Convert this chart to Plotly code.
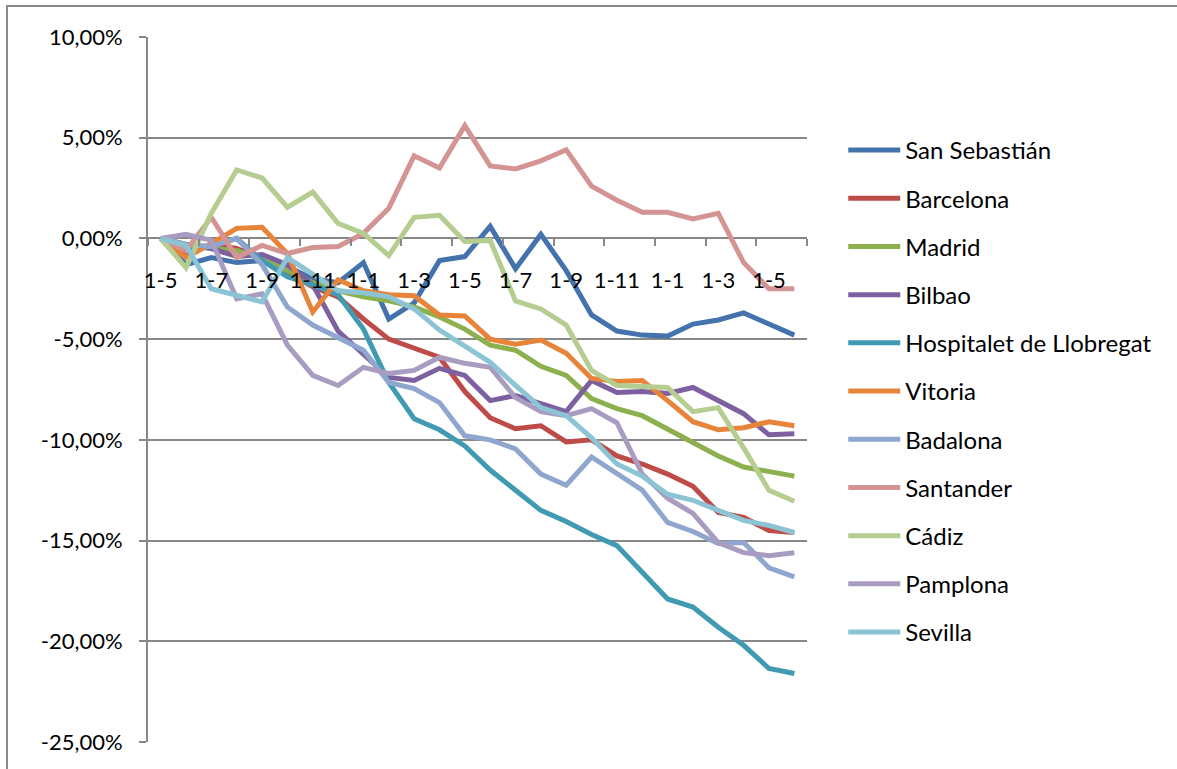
import plotly.graph_objects as go

# Monthly index values (% change since 1-5), one point per month
months = ["1-5", "1-6", "1-7", "1-8", "1-9", "1-10", "1-11", "1-12",
          "1-1", "1-2", "1-3", "1-4", "1-5", "1-6", "1-7", "1-8", "1-9", "1-10", "1-11", "1-12",
          "1-1", "1-2", "1-3", "1-4", "1-5", "1-6"]

san_sebastian = [0, -1.3, -0.95, -1.2, -1.1, -1.4, -2.0, -2.2, -1.2, -4.0, -3.2, -1.1, -0.9,
                 0.6, -1.5, 0.2, -1.6, -3.8, -4.6, -4.8, -4.85, -4.25, -4.05, -3.7, -4.25, -4.8]
barcelona = [0, -0.7, -0.3, -0.5, -1.0, -1.7, -2.4, -2.9, -4.0, -5.0, -5.45, -5.9, -7.6,
             -8.9, -9.45, -9.3, -10.1, -10.0, -10.8, -11.2, -11.7, -12.3, -13.6, -13.85, -14.5, -14.6]
madrid = [0, -0.3, -0.5, -0.6, -1.0, -1.6, -2.2, -2.6, -2.9, -3.1, -3.4, -3.9, -4.5,
          -5.3, -5.55, -6.35, -6.8, -7.95, -8.45, -8.8, -9.45, -10.1, -10.8, -11.35, -11.6, -11.8]
bilbao = [0, -0.3, -0.5, -0.9, -0.8, -1.3, -2.3, -4.6, -5.75, -6.9, -7.05, -6.45, -6.8,
          -8.05, -7.8, -8.2, -8.6, -7.05, -7.65, -7.6, -7.7, -7.4, -8.05, -8.7, -9.75, -9.7]
hospitalet = [0, -0.6, -0.4, 0.0, -1.1, -1.9, -2.3, -2.8, -4.5, -7.15, -8.95, -9.5, -10.3,
              -11.5, -12.5, -13.5, -14.05, -14.7, -15.25, -16.6, -17.9, -18.3, -19.3, -20.2, -21.35, -21.6]
vitoria = [0, -0.95, -0.25, 0.5, 0.55, -0.75, -3.65, -2.05, -2.6, -2.8, -2.85, -3.8, -3.85,
           -5.0, -5.25, -5.05, -5.7, -6.95, -7.1, -7.05, -8.05, -9.1, -9.5, -9.4, -9.1, -9.3]
badalona = [0, -0.3, -0.4, 0.0, -1.3, -3.4, -4.3, -4.95, -5.55, -7.15, -7.45, -8.15, -9.8,
            -10.0, -10.45, -11.7, -12.25, -10.85, -11.65, -12.5, -14.1, -14.55, -15.15, -15.1, -16.35, -16.8]
santander = [0, -0.6, 1.05, -0.95, -0.35, -0.75, -0.45, -0.4, 0.25, 1.5, 4.1, 3.5, 5.6,
             3.6, 3.45, 3.85, 4.4, 2.6, 1.9, 1.3, 1.3, 0.97, 1.25, -1.2, -2.5, -2.5]
cadiz = [0, -1.45, 1.25, 3.4, 3.0, 1.55, 2.3, 0.75, 0.25, -0.85, 1.05, 1.15, -0.15,
         -0.1, -3.1, -3.5, -4.3, -6.55, -7.3, -7.35, -7.4, -8.6, -8.4, -10.4, -12.5, -13.05]
pamplona = [0, 0.2, -0.1, -3.0, -2.75, -5.3, -6.8, -7.3, -6.4, -6.7, -6.55, -5.9, -6.2,
            -6.4, -7.9, -8.6, -8.8, -8.45, -9.15, -11.7, -12.9, -13.65, -15.1, -15.6, -15.75, -15.6]
sevilla = [0, -0.35, -2.5, -2.85, -3.15, -0.95, -1.75, -2.6, -2.7, -2.9, -3.5, -4.55, -5.35,
           -6.15, -7.3, -8.4, -8.8, -9.9, -11.2, -11.8, -12.7, -13.0, -13.5, -14.0, -14.25, -14.6]

series = [
    ("San Sebastián", san_sebastian, "#4372AC"),
    ("Barcelona", barcelona, "#BE4B48"),
    ("Madrid", madrid, "#8DB04E"),
    ("Bilbao", bilbao, "#7D60A0"),
    ("Hospitalet de Llobregat", hospitalet, "#3F9AB2"),
    ("Vitoria", vitoria, "#E8843A"),
    ("Badalona", badalona, "#8FA6CE"),
    ("Santander", santander, "#D49494"),
    ("Cádiz", cadiz, "#B5CD91"),
    ("Pamplona", pamplona, "#A89CC0"),
    ("Sevilla", sevilla, "#8CC4D6"),
]

y_ticks = [10, 5, 0, -5, -10, -15, -20, -25]
y_ticktext = ["10,00%", "5,00%", "0,00%", "-5,00%", "-10,00%", "-15,00%", "-20,00%", "-25,00%"]

FONT = "Lato, 'Open Sans', sans-serif"
GRID = "#878787"

x_idx = list(range(len(months)))

fig = go.Figure()
for name, vals, color in series:
    fig.add_trace(go.Scatter(
        x=x_idx, y=vals, mode="lines", name=name, legendgroup=name,
        line=dict(color=color, width=5),
    ))

fig.update_layout(
    width=1177, height=769, autosize=False,
    margin=dict(l=148, r=370, t=37, b=27),
    paper_bgcolor="white", plot_bgcolor="white",
    font=dict(family=FONT, size=22, color="black"),
    showlegend=True,
    legend=dict(x=1.055, y=0.871, xanchor="left", yanchor="top",
                font=dict(family=FONT, size=24, color="black"),
                tracegroupgap=14, itemwidth=52, bgcolor="rgba(0,0,0,0)"),
    xaxis=dict(
        range=[-0.5, len(months) - 0.5],
        anchor="free", position=25 / 35,
        tickmode="array", tickvals=x_idx[::2], ticktext=months[::2],
        ticks="", showline=False, showgrid=False, zeroline=False,
        ticklabelstandoff=27,
        tickfont=dict(family=FONT, size=22, color="black"),
        minor=dict(tick0=-0.5, dtick=2, ticks="outside", ticklen=7,
                   tickwidth=2, tickcolor=GRID, showgrid=False),
        layer="above traces",
    ),
    yaxis=dict(
        range=[-25, 10], domain=[0, 1],
        tickmode="array", tickvals=y_ticks, ticktext=y_ticktext,
        showgrid=True, gridcolor=GRID, gridwidth=2,
        showline=True, linecolor=GRID, linewidth=2,
        ticks="outside", ticklen=7, tickwidth=2, tickcolor=GRID,
        ticklabelstandoff=12,
        zeroline=False,
        tickfont=dict(family=FONT, size=22, color="black"),
    ),
)

# chart-area border (left and top edges)
fig.add_shape(type="rect", xref="paper", yref="paper",
              x0=(7 - 148) / 659, x1=(1190 - 148) / 659,
              y0=(742 - 800) / 705, y1=(742 - 6) / 705,
              line=dict(color="#8C8C8C", width=2), fillcolor="rgba(0,0,0,0)",
              layer="below")

fig.write_html("out.html")
